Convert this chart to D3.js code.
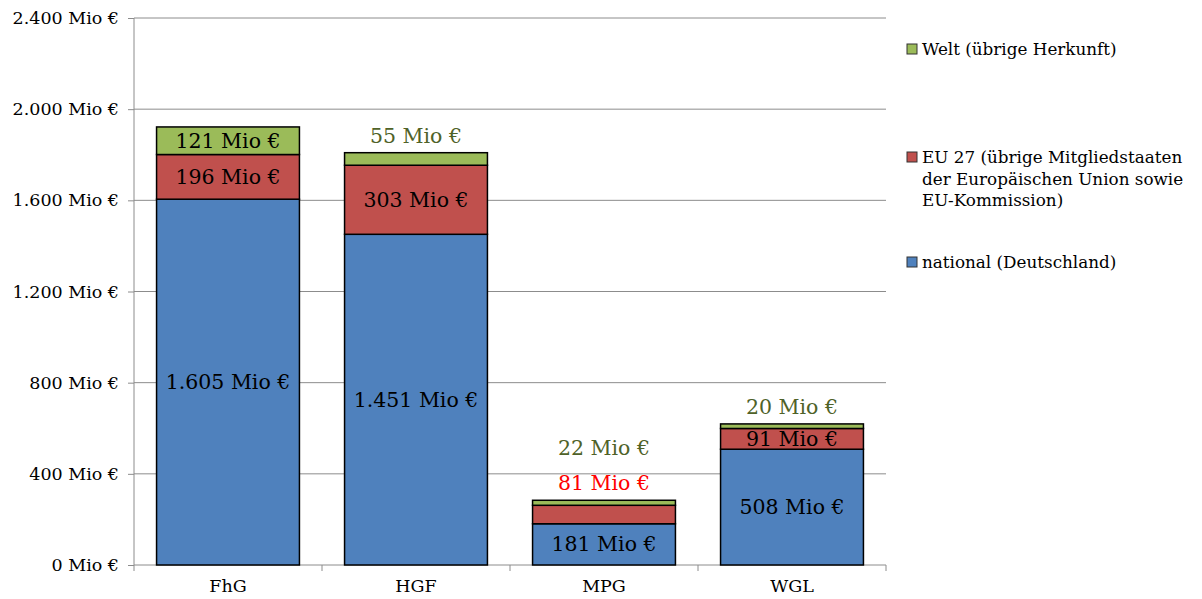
<!DOCTYPE html>
<html>
<head>
<meta charset="utf-8">
<script src="https://cdn.jsdelivr.net/npm/d3@7"></script>
<style>
  body { margin: 0; background: #fff; }
  text { font-family: "DejaVu Serif", "Liberation Serif", serif; }
</style>
</head>
<body>
<div id="chart"></div>
<script>
// chart data
var categories = ["FhG", "HGF", "MPG", "WGL"];
var seriesNames = ["national", "eu", "welt"];
var national = [1605, 1451, 181, 508];
var eu27 = [196, 303, 81, 91];
var welt = [121, 55, 22, 20];
var yTicks = [0, 400, 800, 1200, 1600, 2000, 2400];
var legendLabels = [
  ["Welt (übrige Herkunft)"],
  ["EU 27 (übrige Mitgliedstaaten", "der Europäischen Union sowie", "EU-Kommission)"],
  ["national (Deutschland)"]
];

(function() {
  var width = 1202, height = 599;
  var left = 134, right = 886, top = 18, bottom = 565;

  var fill = { national: "#4F81BD", eu: "#C0504D", welt: "#9BBB59" };
  var outsideColor = { eu: "#FF0000", welt: "#4F6228" };

  var fmt = function(v) { return d3.format(",")(v).replace(/,/g, ".") + " Mio €"; };

  var svg = d3.select("#chart").append("svg")
    .attr("width", width)
    .attr("height", height);

  var rows = categories.map(function(c, i) {
    return { cat: c, national: national[i], eu: eu27[i], welt: welt[i] };
  });

  var x = d3.scaleBand().domain(categories).range([left, right])
    .paddingInner(0.24).paddingOuter(0.12);
  var y = d3.scaleLinear().domain([0, 2400]).range([bottom, top]);

  // gridlines
  svg.append("g").selectAll("line").data(yTicks.slice(1)).enter().append("line")
    .attr("x1", left).attr("x2", right)
    .attr("y1", function(d) { return y(d); }).attr("y2", function(d) { return y(d); })
    .attr("stroke", "#8c8c8c").attr("stroke-width", 1);

  // y axis
  var yAxis = svg.append("g").attr("transform", "translate(" + left + ",0)")
    .call(d3.axisLeft(y).tickValues(yTicks).tickSize(6).tickPadding(9).tickFormat(fmt));
  yAxis.selectAll("path, line").attr("stroke", "#8c8c8c");
  yAxis.selectAll("text").attr("font-size", 17.5).attr("fill", "#000")
    .style("font-family", "DejaVu Serif");
  yAxis.select(".domain").attr("d", "M0," + top + "V" + bottom);

  // x axis
  var xAxis = svg.append("g").attr("transform", "translate(0," + bottom + ")")
    .call(d3.axisBottom(x).tickSize(0).tickPadding(15));
  xAxis.select(".domain").attr("stroke", "#8c8c8c").attr("d", "M" + left + ",0H" + right);
  xAxis.selectAll("text").attr("font-size", 17.5).attr("fill", "#000")
    .style("font-family", "DejaVu Serif");
  var bounds = categories.map(function(c) { return x(c) - x.step() * x.paddingInner() / 2; });
  bounds.push(right);
  bounds[0] = left;
  xAxis.append("g").selectAll("line").data(bounds).enter().append("line")
    .attr("x1", function(d) { return d; }).attr("x2", function(d) { return d; })
    .attr("y1", 0).attr("y2", 6).attr("stroke", "#8c8c8c");

  // stacked bars
  var stack = d3.stack().keys(seriesNames)(rows);
  var layers = svg.append("g").selectAll("g").data(stack).enter().append("g")
    .attr("fill", function(d) { return fill[d.key]; });
  layers.selectAll("rect").data(function(d) { return d; }).enter().append("rect")
    .attr("x", function(d) { return x(d.data.cat); })
    .attr("width", x.bandwidth())
    .attr("y", function(d) { return y(d[1]); })
    .attr("height", function(d) { return y(d[0]) - y(d[1]); })
    .attr("stroke", "#000").attr("stroke-width", 1.5);

  // value labels
  var labels = svg.append("g");
  rows.forEach(function(r) {
    var base = 0, outside = 0;
    var topY = y(r.national + r.eu + r.welt);
    seriesNames.forEach(function(k) {
      var v = r[k];
      var y0 = y(base), y1 = y(base + v);
      base += v;
      var cx = x(r.cat) + x.bandwidth() / 2;
      var t = labels.append("text")
        .attr("x", cx)
        .attr("text-anchor", "middle")
        .attr("dominant-baseline", "central")
        .attr("font-size", 20.5)
        .text(fmt(v));
      if (y0 - y1 >= 20) {
        t.attr("y", (y0 + y1) / 2).attr("fill", "#000");
      } else {
        t.attr("y", topY - 17 - outside * 35).attr("fill", outsideColor[k]);
        outside++;
      }
    });
  });

  // legend
  var legendKeys = ["welt", "eu", "national"];
  var legendY = [49, 157, 262];
  var lg = svg.append("g");
  legendKeys.forEach(function(k, i) {
    lg.append("rect")
      .attr("x", 907).attr("y", legendY[i] - 5)
      .attr("width", 10).attr("height", 10)
      .attr("fill", fill[k]).attr("stroke", "#333").attr("stroke-width", 1);
    legendLabels[i].forEach(function(line, j) {
      lg.append("text")
        .attr("x", 922).attr("y", legendY[i] + j * 21.5)
        .attr("dominant-baseline", "central")
        .attr("font-size", 16.8)
        .text(line);
    });
  });
})();
</script>
</body>
</html>
